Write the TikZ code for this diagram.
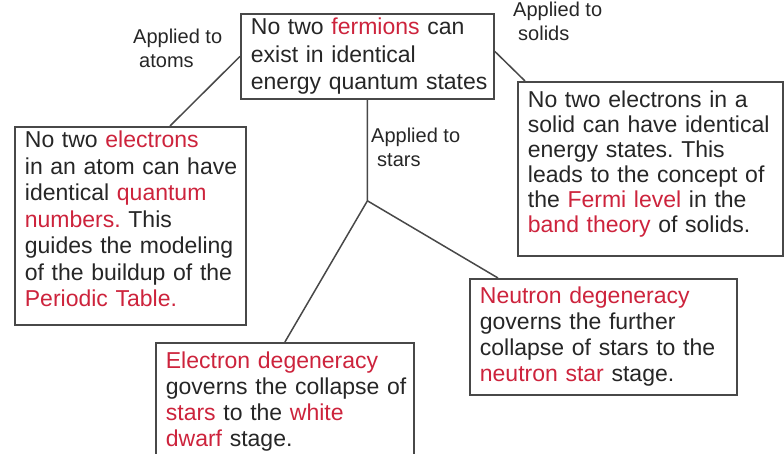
\documentclass[tikz,border=0pt]{standalone}
\usepackage{fontspec}
\setmainfont{Liberation Sans}
\usepackage{xcolor}
\definecolor{PauliRed}{RGB}{205,35,60}
\definecolor{InkGray}{RGB}{38,38,38}
\definecolor{EdgeGray}{RGB}{72,72,72}
\newcommand{\hilite}[1]{\textcolor{PauliRed}{#1}}
\frenchspacing
\tikzset{
  rulebox/.style={draw=EdgeGray, line width=1.8pt, fill=white, text=InkGray,
    anchor=north west, inner xsep=10pt, inner ysep=4pt, align=left,
    font=\fontsize{23}{26}\selectfont,
    execute at begin node={\rightskip=0pt plus 1fil minus 14pt}},
  applabel/.style={text=InkGray, anchor=base west, inner sep=0pt,
    align=left, font=\fontsize{20}{24}\selectfont},
  link/.style={EdgeGray, line width=1.5pt}
}

\begin{document}
\begin{tikzpicture}[x=1pt, y=-1pt]
  \clip (0,0) rectangle (784,454);

  \node[rulebox, text width=233pt, minimum height=85pt,
    font=\fontsize{23}{27.5}\selectfont] (fermi) at (240,13) {
    No two \hilite{fermions} can\\
    exist in identical\\
    energy quantum states
  };

  \node[rulebox, text width=211pt, minimum height=197pt,
    font=\fontsize{23}{26.5}\selectfont] (atoms) at (14,126) {
    No two \hilite{electrons}\\
    in an atom can have\\
    identical \hilite{quantum}\\
    \hilite{numbers.} This\\
    guides the modeling\\
    of the buildup of the\\
    \hilite{Periodic Table.}\\[-12pt]\mbox{}
  };

  \node[rulebox, text width=245pt, minimum height=174pt,
    font=\fontsize{23}{25}\selectfont] (solids) at (517,81) {
    No two electrons in a\\
    solid can have identical\\
    energy states. This\\
    leads to the concept of\\
    the \hilite{Fermi level} in the\\
    \hilite{band theory} of solids.\\[-10pt]\mbox{}
  };

  \node[rulebox, text width=247pt, minimum height=116pt] (neutron) at (469,278) {
    \hilite{Neutron degeneracy}\\
    governs the further\\
    collapse of stars to the\\
    \hilite{neutron star} stage.
  };

  \node[rulebox, text width=238pt, minimum height=118pt] (electron) at (155,342) {
    \hilite{Electron degeneracy}\\
    governs the collapse of\\
    \hilite{stars} to the \hilite{white}\\
    \hilite{dwarf} stage.
  };

  % labels on the branches
  \node[applabel] (lblatoms) at (133,68) {Applied to\\\hspace*{6pt}atoms};
  \node[applabel] (lblsolids) at (513,41) {Applied to\\\hspace*{5pt}solids};
  \node[applabel] (lblstars) at (371,167) {Applied to\\\hspace*{6pt}stars};

  \coordinate (split) at ([yshift=-101pt]fermi.south);

  \draw[link] (fermi.west) -- ([xshift=156pt]atoms.north west);
  \draw[link] ([yshift=5pt]fermi.east) -- ([xshift=8pt]solids.north west);
  \draw[link] (fermi.south) -- (split) -- (electron.north);
  \draw[link] (split) -- ([xshift=29pt]neutron.north west);
\end{tikzpicture}
\end{document}
